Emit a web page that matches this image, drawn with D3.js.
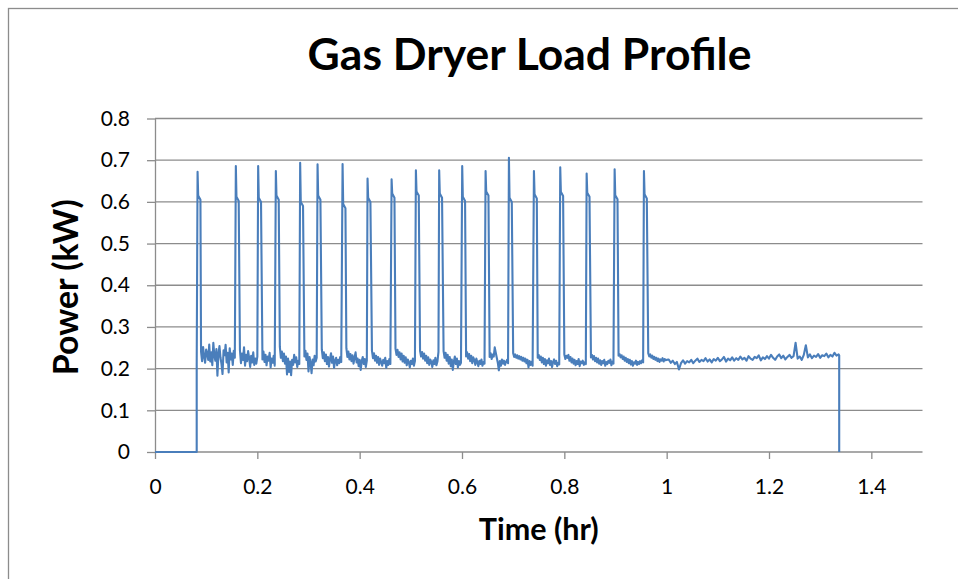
<!DOCTYPE html>
<html>
<head>
<meta charset="utf-8">
<script src="https://cdn.jsdelivr.net/npm/d3@7"></script>
<style>
    body { margin: 0; background: #fff; }
    svg { display: block; }
    .grid line { stroke: #8c8c8c; stroke-width: 1.3; }
    .axis path, .axis line { stroke: #8c8c8c; stroke-width: 1.3; }
    .axis text { font-family: Lato, "Open Sans", sans-serif; font-size: 21px; fill: #000; }
    .title { font-family: Lato, "Open Sans", sans-serif; font-weight: bold; fill: #000; }
</style>
</head>
<body>
<div id="chart"></div>
<script>
// Chart text and ticks
const chartTitle = "Gas Dryer Load Profile";
const xTitle = "Time (hr)";
const yTitle = "Power (kW)";
const xTicks = [0, 0.2, 0.4, 0.6, 0.8, 1, 1.2, 1.4];
const yTicks = [0, 0.1, 0.2, 0.3, 0.4, 0.5, 0.6, 0.7, 0.8];

// Off periods before and after the cycle: [hr, kW]
const idleStart = [[0, 0], [0.0815, 0], [0.0815, 0.21]];
const idleEnd = [[1.3372, 0.232], [1.3372, 0]];

// Burner-on spikes (hr, peak kW, shoulder kW)
const spikeTimes = [0.0832, 0.1580, 0.2016, 0.2362, 0.2837, 0.3177, 0.3666, 0.4154, 0.4624, 0.5099,
                    0.5554, 0.6004, 0.6461, 0.6917, 0.7406, 0.7920, 0.8436, 0.8983, 0.9556];
const spikePeaks = [0.672, 0.686, 0.686, 0.674, 0.694, 0.690, 0.691, 0.656, 0.654, 0.676,
                    0.676, 0.686, 0.674, 0.706, 0.674, 0.683, 0.668, 0.678, 0.674];
const spikeShoulders = [0.615, 0.612, 0.610, 0.615, 0.600, 0.615, 0.595, 0.610, 0.620, 0.625,
                        0.620, 0.612, 0.625, 0.610, 0.618, 0.624, 0.622, 0.616, 0.618];

// Drum/fan baseline while the burner cycles, one sample every 0.002 hr from 0.086 hr
const heatStart = 0.086;
const heatStep = 0.002;
const heatKW = [
    0.225, 0.212, 0.241, 0.218, 0.252, 0.229, 0.214, 0.246, 0.236, 0.221, 0.258, 0.217, 0.239, 0.208, 0.262, 0.231, 0.219, 0.247, 0.183, 0.236,
    0.254, 0.226, 0.211, 0.187, 0.244, 0.232, 0.257, 0.215, 0.238, 0.191, 0.249, 0.222, 0.236, 0.209, 0.243, 0.226, 0.240, 0.238, 0.252, 0.228,
    0.244, 0.213, 0.236, 0.221, 0.251, 0.207, 0.233, 0.218, 0.242, 0.226, 0.204, 0.231, 0.215, 0.239, 0.209, 0.224, 0.212, 0.229, 0.240, 0.246,
    0.237, 0.249, 0.222, 0.241, 0.216, 0.233, 0.208, 0.229, 0.219, 0.238, 0.203, 0.224, 0.214, 0.231, 0.207, 0.220, 0.240, 0.248, 0.235, 0.252,
    0.226, 0.241, 0.218, 0.236, 0.212, 0.229, 0.186, 0.224, 0.192, 0.217, 0.184, 0.221, 0.209, 0.233, 0.215, 0.227, 0.204, 0.219, 0.211, 0.240,
    0.247, 0.238, 0.254, 0.229, 0.243, 0.221, 0.236, 0.193, 0.228, 0.214, 0.189, 0.222, 0.208, 0.231, 0.217, 0.226, 0.240, 0.244, 0.251, 0.232,
    0.246, 0.225, 0.239, 0.218, 0.234, 0.211, 0.228, 0.205, 0.223, 0.237, 0.214, 0.229, 0.202, 0.219, 0.226, 0.208, 0.221, 0.213, 0.228, 0.216,
    0.240, 0.244, 0.256, 0.237, 0.249, 0.228, 0.241, 0.222, 0.235, 0.218, 0.232, 0.212, 0.227, 0.239, 0.215, 0.224, 0.206, 0.221, 0.197, 0.218,
    0.228, 0.211, 0.223, 0.204, 0.219, 0.240, 0.238, 0.246, 0.232, 0.243, 0.225, 0.237, 0.219, 0.231, 0.214, 0.228, 0.209, 0.224, 0.216, 0.207,
    0.221, 0.213, 0.226, 0.202, 0.218, 0.209, 0.223, 0.211, 0.240, 0.236, 0.252, 0.241, 0.248, 0.233, 0.245, 0.228, 0.239, 0.222, 0.236, 0.217,
    0.231, 0.214, 0.227, 0.208, 0.222, 0.215, 0.203, 0.219, 0.211, 0.224, 0.207, 0.218, 0.240, 0.238, 0.247, 0.236, 0.243, 0.229, 0.240, 0.224,
    0.236, 0.219, 0.231, 0.213, 0.227, 0.209, 0.222, 0.216, 0.204, 0.220, 0.211, 0.226, 0.208, 0.217, 0.240, 0.244, 0.238, 0.249, 0.231, 0.242,
    0.226, 0.238, 0.219, 0.233, 0.212, 0.228, 0.206, 0.222, 0.197, 0.216, 0.229, 0.211, 0.224, 0.203, 0.218, 0.209, 0.214, 0.240, 0.246, 0.237,
    0.243, 0.229, 0.239, 0.224, 0.235, 0.218, 0.231, 0.213, 0.227, 0.221, 0.209, 0.224, 0.215, 0.206, 0.219, 0.211, 0.222, 0.207, 0.216, 0.212,
    0.240, 0.244, 0.236, 0.241, 0.228, 0.237, 0.223, 0.234, 0.229, 0.251, 0.238, 0.226, 0.214, 0.196, 0.218, 0.207, 0.222, 0.212, 0.219, 0.209,
    0.216, 0.221, 0.213, 0.240, 0.236, 0.239, 0.231, 0.237, 0.228, 0.234, 0.226, 0.232, 0.224, 0.230, 0.222, 0.228, 0.219, 0.226, 0.217, 0.224,
    0.213, 0.221, 0.203, 0.218, 0.209, 0.216, 0.207, 0.214, 0.240, 0.234, 0.238, 0.226, 0.233, 0.221, 0.229, 0.215, 0.226, 0.211, 0.223, 0.207,
    0.220, 0.213, 0.224, 0.209, 0.218, 0.204, 0.216, 0.222, 0.211, 0.219, 0.206, 0.214, 0.210, 0.240, 0.235, 0.238, 0.229, 0.234, 0.223, 0.231,
    0.226, 0.233, 0.219, 0.228, 0.215, 0.224, 0.212, 0.221, 0.208, 0.218, 0.211, 0.223, 0.206, 0.217, 0.213, 0.219, 0.209, 0.215, 0.211, 0.240,
    0.236, 0.230, 0.238, 0.227, 0.233, 0.222, 0.230, 0.218, 0.226, 0.215, 0.224, 0.212, 0.220, 0.209, 0.218, 0.213, 0.221, 0.207, 0.216, 0.211,
    0.219, 0.214, 0.222, 0.208, 0.217, 0.212, 0.215, 0.240, 0.236, 0.239, 0.231, 0.235, 0.227, 0.232, 0.223, 0.229, 0.219, 0.226, 0.216, 0.223,
    0.213, 0.221, 0.210, 0.218, 0.207, 0.215, 0.212, 0.219, 0.209, 0.216, 0.211, 0.218, 0.213, 0.220, 0.215, 0.240, 0.238, 0.242, 0.233, 0.237,
    0.229, 0.234, 0.226, 0.231, 0.223, 0.228, 0.221, 0.226, 0.218, 0.224, 0.216, 0.222, 0.219, 0.225, 0.217, 0.223, 0.220
];

// Fan only after the heat shuts off, one sample every 0.004 hr from 1.000 hr
const fanStart = 1.0;
const fanStep = 0.004;
const fanKW = [
    0.221,
    0.222, 0.214, 0.219, 0.211, 0.216, 0.198, 0.213, 0.220, 0.212, 0.218, 0.215, 0.221,
    0.213, 0.219, 0.224, 0.216, 0.221, 0.218, 0.225, 0.217, 0.222, 0.215, 0.223, 0.219,
    0.226, 0.218, 0.222, 0.228, 0.217, 0.224, 0.220, 0.227, 0.219, 0.225, 0.221, 0.229,
    0.222, 0.226, 0.219, 0.230, 0.224, 0.221, 0.228, 0.225, 0.232, 0.220, 0.227, 0.223,
    0.230, 0.224, 0.233, 0.226, 0.221, 0.229, 0.234, 0.225, 0.231, 0.222, 0.228, 0.233,
    0.226, 0.230, 0.262, 0.224, 0.229, 0.221, 0.233, 0.256, 0.227, 0.234, 0.225, 0.231,
    0.228, 0.235, 0.226, 0.232, 0.230, 0.236, 0.227, 0.233, 0.229, 0.238, 0.231, 0.234
];

const width = 958, height = 579;
const margin = {top: 118.5, right: 35.5, bottom: 127, left: 155};

const svg = d3.select("#chart").append("svg")
    .attr("width", width)
    .attr("height", height);

// chart border (cropped on the right and bottom)
svg.append("rect")
    .attr("x", 8.5).attr("y", 8.5)
    .attr("width", 1000).attr("height", 1000)
    .attr("fill", "none")
    .attr("stroke", "#8c8c8c")
    .attr("stroke-width", 1.3);

const x = d3.scaleLinear().domain([0, 1.5]).range([margin.left, width - margin.right]);
const y = d3.scaleLinear().domain([0, 0.8]).range([height - margin.bottom, margin.top]);

// build the series
const points = idleStart.slice();
function addSamples(values, start, step) {
    values.forEach((v, i) => {
        const t = start + i * step;
        const inSpike = spikeTimes.some(s => t > s - 0.0012 && t < s + 0.0068);
        if (!inSpike) points.push([t, v]);
    });
}
addSamples(heatKW, heatStart, heatStep);
addSamples(fanKW, fanStart, fanStep);
spikeTimes.forEach((s, k) => {
    points.push([s, spikePeaks[k]], [s + 0.0012, spikeShoulders[k]], [s + 0.0056, spikeShoulders[k] - 0.01]);
});
points.sort((a, b) => a[0] - b[0]);
idleEnd.forEach(p => points.push(p));

// gridlines
svg.append("g").attr("class", "grid")
    .selectAll("line")
    .data(yTicks.filter(d => d > 0))
    .enter().append("line")
    .attr("x1", margin.left).attr("x2", width - margin.right)
    .attr("y1", d => y(d)).attr("y2", d => y(d));

// axes
const xAxis = svg.append("g").attr("class", "axis")
    .attr("transform", `translate(0,${y(0)})`)
    .call(d3.axisBottom(x).tickValues(xTicks).tickSize(7).tickSizeOuter(0).tickPadding(20)
        .tickFormat(d3.format("")));
xAxis.select(".domain").attr("d", `M${margin.left},0H${width - margin.right}`);

const yAxis = svg.append("g").attr("class", "axis")
    .attr("transform", `translate(${x(0)},0)`)
    .call(d3.axisLeft(y).tickValues(yTicks).tickSize(8).tickSizeOuter(0).tickPadding(17)
        .tickFormat(d3.format("")));

// data line
svg.append("path")
    .datum(points)
    .attr("fill", "none")
    .attr("stroke", "#4a7ebb")
    .attr("stroke-width", 2.1)
    .attr("stroke-linejoin", "round")
    .attr("d", d3.line().x(d => x(d[0])).y(d => y(d[1])));

// titles, scaled to match the original widths
function fitText(sel, target) {
    const w = sel.node().getComputedTextLength();
    const fs = parseFloat(sel.attr("font-size"));
    sel.attr("font-size", fs * target / w);
}

const title = svg.append("text").attr("class", "title")
    .attr("x", 529.5).attr("y", 70)
    .attr("text-anchor", "middle")
    .attr("font-size", 38)
    .text(chartTitle);
fitText(title, 444);

const xt = svg.append("text").attr("class", "title")
    .attr("x", (margin.left + width - margin.right) / 2).attr("y", 540)
    .attr("text-anchor", "middle")
    .attr("font-size", 25)
    .text(xTitle);
fitText(xt, 120);

const yt = svg.append("text").attr("class", "title")
    .attr("transform", `translate(78,${(y(0) + y(0.8)) / 2 + 2}) rotate(-90)`)
    .attr("text-anchor", "middle")
    .attr("font-size", 25)
    .text(yTitle);
fitText(yt, 176);
</script>
</body>
</html>
